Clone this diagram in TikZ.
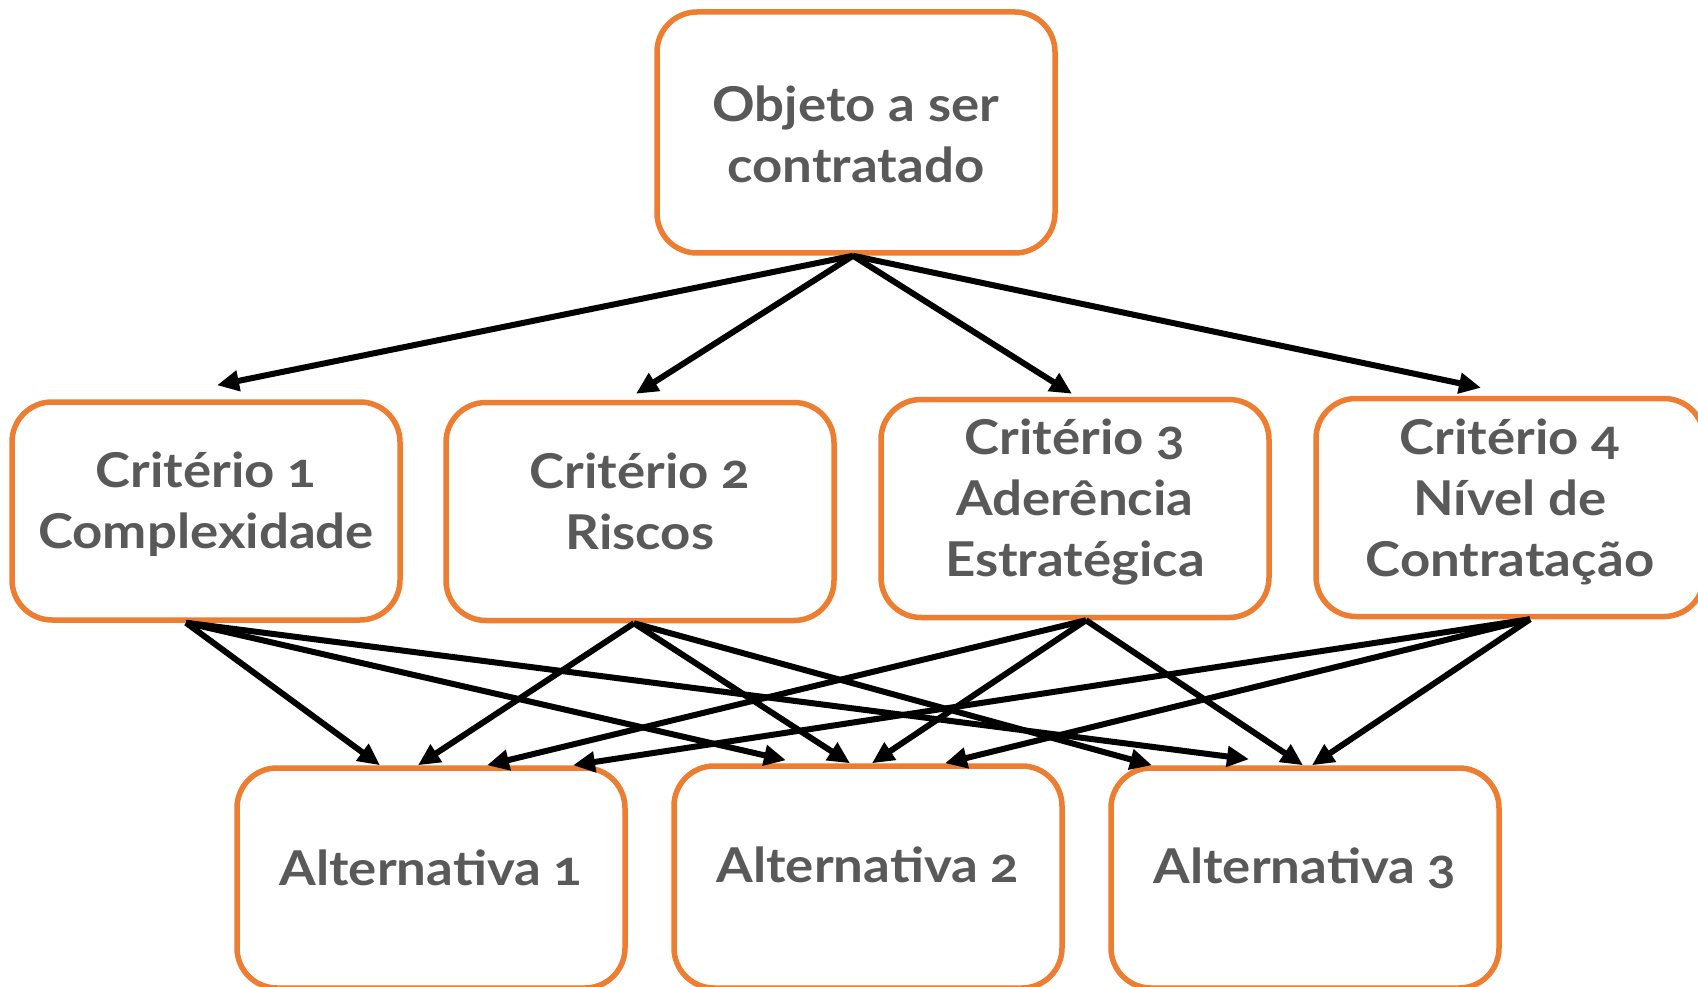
\documentclass[tikz,border=0pt]{standalone}
\usepackage{fontspec}
\setmainfont{Lato}[Numbers=OldStyle, FakeStretch=1.1]
\usetikzlibrary{arrows.meta}
\definecolor{boxorange}{HTML}{ED7D31}
\definecolor{txtgray}{HTML}{595959}
\tikzset{
  box/.style={draw=boxorange, line width=5.5pt, rounded corners=40pt, fill=white,
    minimum width=388pt, minimum height=218pt, inner sep=0pt},
  lbl/.style={text=txtgray, font=\fontsize{48}{61}\selectfont\bfseries, align=center, inner sep=0pt},
  conn/.style={line width=6pt, -{Triangle[length=22pt,width=20pt]}}
}
\begin{document}
\begin{tikzpicture}[x=1pt,y=-1pt]
\useasboundingbox (0,0) rectangle (1698,987);
\node[box, minimum width=398pt, minimum height=241pt] (top) at (856,132.5) {};
\node[box] (c1) at (206,511) {};
\node[box] (c2) at (640,511.5) {};
\node[box] (c3) at (1075,508.5) {};
\node[box] (c4) at (1510,507.5) {};
\node[box, minimum height=220pt] (a1) at (431,878) {};
\node[box, minimum height=222pt] (a2) at (868,877) {};
\node[box, minimum height=220pt] (a3) at (1305,878) {};
\node[lbl] (ttop) at ([yshift=-2pt]top.center) {Objeto a ser\\contratado};
\node[lbl] (t1) at ([yshift=7pt]c1.center) {Critério 1\\Complexidade};
\node[lbl] (t2) at ([yshift=10pt]c2.center) {Critério 2\\Riscos};
\node[lbl] (t3) at ([yshift=6pt]c3.center) {Critério 3\\Aderência\\Estratégica};
\node[lbl] (t4) at ([yshift=6pt]c4.center) {Critério 4\\Nível de\\Contratação};
\node[lbl] (ta1) at ([yshift=10pt]a1.center) {Alternativa 1};
\node[lbl] (ta2) at ([yshift=12pt]a2.center) {Alternativa 2};
\node[lbl] (ta3) at ([yshift=10pt]a3.center) {Alternativa 3};
% sources
\coordinate (s0) at ([xshift=-3pt]top.south);
\coordinate (s1) at ([xshift=-20pt]c1.south);
\coordinate (s2) at ([xshift=-6pt]c2.south);
\coordinate (s3) at ([xshift=11pt]c3.south);
\coordinate (s4) at ([xshift=20pt]c4.south);
% top to criteria
\draw[conn] (s0) -- ([xshift=11pt,yshift=14pt]c1.north);
\draw[conn] (s0) -- ([xshift=-4pt,yshift=6pt]c2.north);
\draw[conn] (s0) -- ([xshift=-3pt,yshift=3pt]c3.north);
\draw[conn] (s0) -- ([xshift=-29pt,yshift=8pt]c4.north);
% criteria to alternatives
\draw[conn] (s1) -- ([xshift=-51pt]a1.north);
\draw[conn] (s1) -- ([xshift=-82pt,yshift=3pt]a2.north);
\draw[conn] (s1) -- ([xshift=-56pt,yshift=6pt]a3.north);
\draw[conn] (s2) -- ([xshift=-13pt]a1.north);
\draw[conn] (s2) -- ([xshift=-18pt]a2.north);
\draw[conn] (s2) -- ([xshift=-153pt]a3.north);
\draw[conn] (s3) -- ([xshift=56pt]a1.north);
\draw[conn] (s3) -- ([xshift=4pt]a2.north);
\draw[conn] (s3) -- ([xshift=-2pt]a3.north);
\draw[conn] (s4) -- ([xshift=142pt]a1.north);
\draw[conn] (s4) -- ([xshift=77pt]a2.north);
\draw[conn] (s4) -- ([xshift=7pt]a3.north);
\end{tikzpicture}
\end{document}
